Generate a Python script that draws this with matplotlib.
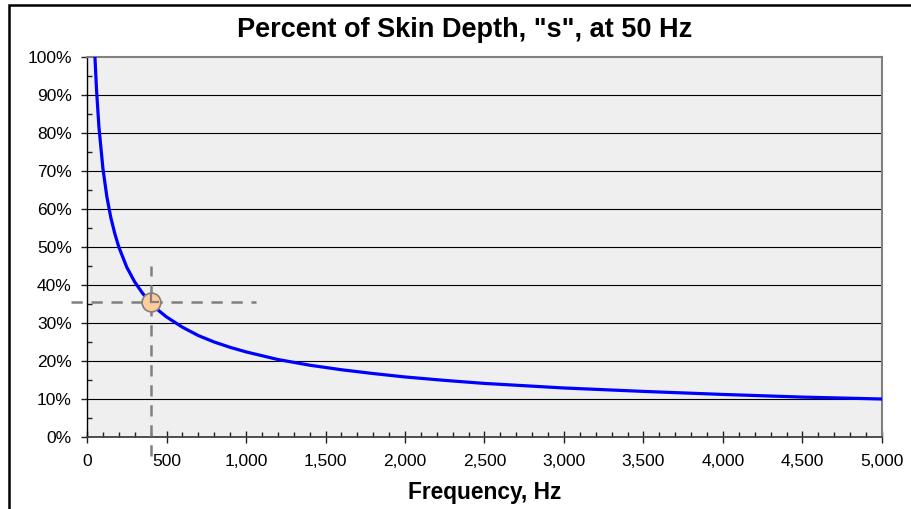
import matplotlib
matplotlib.use("Agg")
import matplotlib.pyplot as plt
from matplotlib.ticker import FuncFormatter, MultipleLocator
from matplotlib.patches import Rectangle

plt.rcParams['font.family'] = ['Liberation Sans', 'DejaVu Sans']

# Frequency (Hz) and percent of skin depth
freq_hz = [50, 60, 75, 100, 125, 150, 175, 200, 250, 300, 350, 400, 450, 500,
           600, 700, 800, 900, 1000, 1200, 1400, 1600, 1800, 2000, 2250, 2500,
           2750, 3000, 3500, 4000, 4500, 5000]
pct_depth = [100.0, 91.3, 81.6, 70.7, 63.2, 57.7, 53.5, 50.0, 44.7, 40.8, 37.8,
             35.4, 33.3, 31.6, 28.9, 26.7, 25.0, 23.6, 22.4, 20.4, 18.9, 17.7,
             16.7, 15.8, 14.9, 14.1, 13.5, 12.9, 12.0, 11.2, 10.5, 10.0]

# Highlighted point and its guide lines
mark_freq = 400
mark_pct = 35.4
guide_x = [-100, 1060]
guide_y = [-5, 45]

title = 'Percent of Skin Depth, "s", at 50 Hz'
xlabel = 'Frequency, Hz'

W, H = 912, 509
fig = plt.figure(figsize=(W / 100, H / 100), dpi=100)
fig.patch.set_facecolor('white')

# outer chart border (left and top edges visible)
fig.patches.append(Rectangle((9 / W, -0.1), 1.2, 1 - 5 / H + 0.1,
                             transform=fig.transFigure, fill=False,
                             edgecolor='black', linewidth=1.8, zorder=10))

x0, x1 = 87 / W, 882 / W
y0, y1 = 1 - 437 / H, 1 - 57 / H
ax = fig.add_axes([x0, y0, x1 - x0, y1 - y0])
ax.set_facecolor('#EFEFEF')

ax.set_xlim(0, 5000)
ax.set_ylim(0, 100)

# horizontal grid
for g in range(10, 100, 10):
    ax.axhline(g, color='black', linewidth=0.8, zorder=1)

ax.plot(freq_hz, pct_depth, color='#0000FF', linewidth=2.3, zorder=3,
        solid_joinstyle='round')

# guide lines through the highlighted point
dash = dict(color='#808080', linewidth=1.8, linestyle=(0, (4.5, 3.5)),
            clip_on=False, zorder=4)
ax.plot(guide_x, [mark_pct, mark_pct], **dash)
ax.plot([mark_freq, mark_freq], guide_y, **dash)

ax.plot([mark_freq], [mark_pct], marker='o', markersize=13.5,
        markerfacecolor='#FFCC99', markeredgecolor='#808080',
        markeredgewidth=1.2, zorder=5, clip_on=False)
solid = dict(color='#808080', linewidth=1.6, zorder=6, clip_on=False)
ax.plot([mark_freq, mark_freq], [mark_pct, mark_pct + 1.9], **solid)
ax.plot([mark_freq, mark_freq + 45], [mark_pct, mark_pct], **solid)

# spines
for s in ['top', 'right']:
    ax.spines[s].set_color('#808080')
    ax.spines[s].set_linewidth(1.5)
ax.spines['left'].set_color('black')
ax.spines['left'].set_linewidth(1.0)
ax.spines['bottom'].set_color('#404040')
ax.spines['bottom'].set_linewidth(1.3)

# ticks
ax.xaxis.set_major_locator(MultipleLocator(500))
ax.xaxis.set_minor_locator(MultipleLocator(100))
ax.yaxis.set_major_locator(MultipleLocator(10))
ax.yaxis.set_minor_locator(MultipleLocator(5))
ax.xaxis.set_major_formatter(FuncFormatter(lambda v, p: f'{int(v):,}'))
ax.yaxis.set_major_formatter(FuncFormatter(lambda v, p: f'{int(v)}%'))

ax.tick_params(axis='x', which='major', direction='inout', length=8,
               width=1.0, color='#202020', pad=8, labelsize=12.5)
ax.tick_params(axis='x', which='minor', direction='in', length=3.5,
               width=1.0, color='#202020')
ax.tick_params(axis='y', which='major', direction='out', length=4,
               width=1.0, color='#202020', pad=7, labelsize=12.5)
ax.tick_params(axis='y', which='minor', direction='in', length=3.5,
               width=1.0, color='#202020')

fig.text(0.510, 1 - 30 / H, title, ha='center', va='center',
         fontsize=19.5, fontweight='bold')
fig.text((x0 + x1) / 2, 1 - 492 / H, xlabel, ha='center', va='center',
         fontsize=16.4, fontweight='bold')

fig.savefig('out.png', dpi=100)
